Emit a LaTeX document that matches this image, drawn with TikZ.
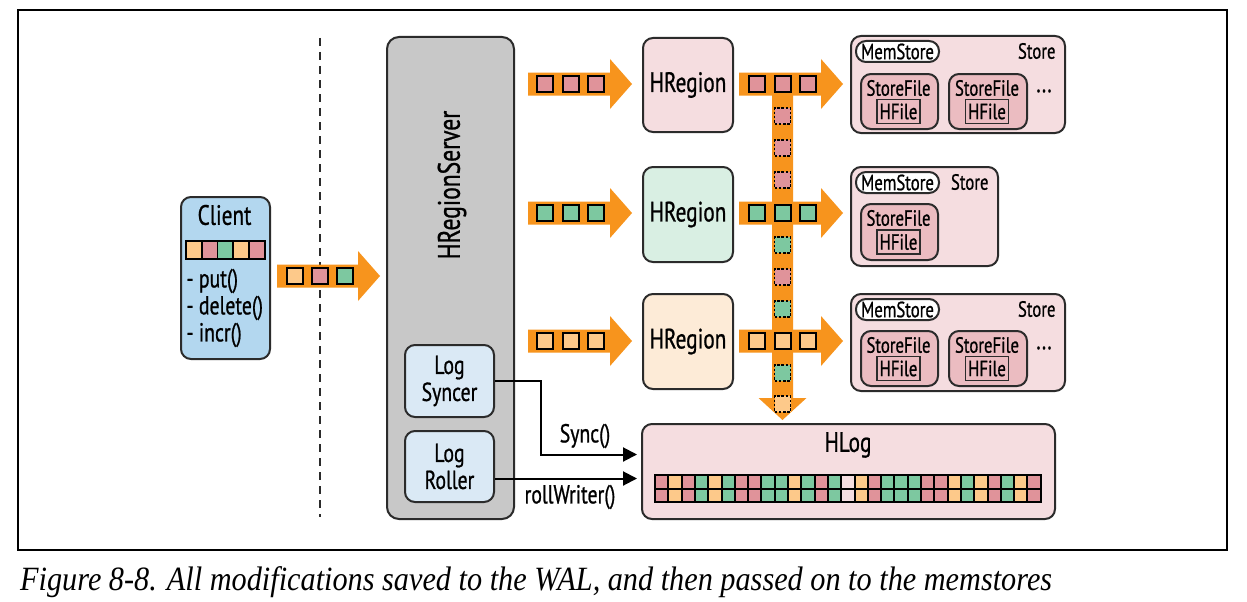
\documentclass[tikz,border=0pt]{standalone}
\usepackage{fontspec}
\setmainfont{PT Sans}[FakeStretch=0.76,FakeBold=0.8]
\newfontfamily\capfont{Liberation Serif}[FakeStretch=0.89]
\usetikzlibrary{arrows.meta,calc}

\definecolor{arroworange}{HTML}{F7941D}
\definecolor{cellP}{HTML}{E0939A}
\definecolor{cellG}{HTML}{7DC8A0}
\definecolor{cellO}{HTML}{FDC98A}
\definecolor{clientblue}{HTML}{B3D7EF}
\definecolor{logblue}{HTML}{DAE9F5}
\definecolor{servergray}{HTML}{C8C8C8}
\definecolor{regionpink}{HTML}{F5DDE0}
\definecolor{regiongreen}{HTML}{D9EFE3}
\definecolor{regionpeach}{HTML}{FDEBD7}
\definecolor{filepink}{HTML}{EBBCC1}
\definecolor{edgegray}{HTML}{2B2B2B}
\colorlet{cellX}{regionpink}

\tikzset{
  rbox/.style={draw=edgegray, line width=2pt, rounded corners=10pt, inner sep=0pt, anchor=north west},
  big/.style={font=\fontsize{28}{30}\selectfont},
  mid/.style={font=\fontsize{26}{29}\selectfont},
  small/.style={font=\fontsize{22}{24}\selectfont},
  sqr/.style={draw=black, line width=2pt, minimum size=16pt, inner sep=0pt},
  dsqr/.style={draw=black, line width=1.4pt, dash pattern=on 2.5pt off 1.8pt, minimum size=16pt, inner sep=0pt},
  hfilebox/.style={draw=edgegray, line width=1.8pt, minimum width=43pt, minimum height=24pt, inner sep=0pt, small},
  conn/.style={draw=black, line width=2pt, -{Triangle[length=14pt,width=14pt]}},
}

% rounded box from its corner (x1,y1) to (x2,y2)
\newcommand\boxfrom[7]{%
  \node[rbox,#6,minimum width={#4-#2},minimum height={#5-#3}] (#1) at (#2,#3) {#7};}

% fat orange arrow from x1 to the tip at x2, along y
\newcommand\fatarrow[3]{%
  \fill[arroworange] (#1,#3-11.5) -- (#2-22,#3-11.5) -- (#2-22,#3-25) -- (#2,#3)
    -- (#2-22,#3+25) -- (#2-22,#3+11.5) -- (#1,#3+11.5) -- cycle;}

\begin{document}
\begin{tikzpicture}[x=1pt,y=-1pt]
\useasboundingbox (0,0) rectangle (1247,602);
\fill[white] (0,0) rectangle (1247,602);

% frame
\draw[line width=1.5pt] (18,10) rectangle (1227,550);

% dashed separator between client and server
\draw[edgegray, line width=2.6pt, dash pattern=on 8pt off 6pt] (320,38) -- (320,517);

% ---------- client ----------
\boxfrom{client}{180}{196}{269}{358}{fill=clientblue}{}
\node[big] (clienttitle) at (224.5,215) {Client};
\foreach \c [count=\i from 0] in {O,P,G,O,P}
  \node[draw=black, line width=1.8pt, fill=cell\c, minimum width=15.8pt, minimum height=18pt, inner sep=0pt, anchor=north west]
    (cc\i) at (185+\i*15.8,240) {};
\node[mid, anchor=west] (cput) at (183,281) {- put()};
\node[mid, anchor=west] (cdel) at (183,308) {- delete()};
\node[mid, anchor=west] (cincr) at (183,335) {- incr()};

% ---------- region server ----------
\boxfrom{server}{386}{36}{513}{518}{fill=servergray, rounded corners=12pt}{}
\node[rotate=90, font=\fontsize{31}{33}\selectfont] (servername) at (452,185) {HRegionServer};
\boxfrom{syncer}{404}{344}{493}{416}{fill=logblue, align=center, mid}{Log\\[-2pt]Syncer}
\boxfrom{roller}{404}{430}{493}{501}{fill=logblue, align=center, mid}{Log\\[-2pt]Roller}

% ---------- regions ----------
\boxfrom{regA}{642}{37}{732}{131}{fill=regionpink, big}{HRegion}
\boxfrom{regB}{642}{166}{732}{261}{fill=regiongreen, big}{HRegion}
\boxfrom{regC}{642}{293}{732}{388}{fill=regionpeach, big}{HRegion}

% ---------- log ----------
\boxfrom{hlog}{641}{423}{1054}{518}{fill=regionpink}{}
\node[big] (hlogname) at (848,445) {HLog};
\foreach \c [count=\i from 0] in {P,O,P,G,O,G,P,P,G,G,O,G,P,G,X,O,P,G,G,G,P,P,O,G,O,P,G,O,P} {
  \ifx\c X
    \draw[fill=cellX, line width=1.4pt, dash pattern=on 2.5pt off 2pt] (655+\i*13.3,475) rectangle ++(13.3,13.5);
    \draw[fill=cellX, line width=1.4pt, dash pattern=on 2.5pt off 2pt] (655+\i*13.3,488.5) rectangle ++(13.3,13.5);
  \else
    \draw[fill=cell\c, line width=2pt] (655+\i*13.3,475) rectangle ++(13.3,13.5);
    \draw[fill=cell\c, line width=2pt] (655+\i*13.3,488.5) rectangle ++(13.3,13.5);
  \fi
}

% ---------- stores ----------
% store of the first region
\boxfrom{storeA}{850}{35}{1064}{132}{fill=regionpink}{}
\boxfrom{memA}{855}{40}{938}{61}{fill=white, small}{MemStore}
\node[small, anchor=east] (storeAlbl) at (1059,51) {Store};
\boxfrom{sfA1}{860}{73}{937}{128}{fill=filepink}{}
\node[small] (sfA1t) at (898.5,88) {StoreFile};
\node[hfilebox] (hfA1) at (898.5,111.5) {HFile};
\boxfrom{sfA2}{948}{73}{1026}{128}{fill=filepink}{}
\node[small] (sfA2t) at (987,88) {StoreFile};
\node[hfilebox] (hfA2) at (987,111.5) {HFile};
\node[mid] (dotsA) at (1044,91) {...};

% store of the second region
\boxfrom{storeB}{850}{166}{997}{265}{fill=regionpink}{}
\boxfrom{memB}{855}{171}{938}{192}{fill=white, small}{MemStore}
\node[small, anchor=east] (storeBlbl) at (992,182) {Store};
\boxfrom{sfB1}{860}{203}{937}{259}{fill=filepink}{}
\node[small] (sfB1t) at (898.5,218) {StoreFile};
\node[hfilebox] (hfB1) at (898.5,242) {HFile};

% store of the third region
\boxfrom{storeC}{850}{293}{1064}{390}{fill=regionpink}{}
\boxfrom{memC}{855}{298}{938}{319}{fill=white, small}{MemStore}
\node[small, anchor=east] (storeClbl) at (1059,309) {Store};
\boxfrom{sfC1}{860}{330}{937}{385}{fill=filepink}{}
\node[small] (sfC1t) at (898.5,345) {StoreFile};
\node[hfilebox] (hfC1) at (898.5,368.5) {HFile};
\boxfrom{sfC2}{948}{330}{1026}{385}{fill=filepink}{}
\node[small] (sfC2t) at (987,345) {StoreFile};
\node[hfilebox] (hfC2) at (987,368.5) {HFile};
\node[mid] (dotsC) at (1044,348) {...};

% ---------- orange data flow ----------
% trunk down to the log
\fill[arroworange] (772,84) -- (793,84) -- (793,398) -- (806.5,398) -- (782.5,420)
  -- (758.5,398) -- (772,398) -- cycle;
\fatarrow{277}{380}{276}
\fatarrow{528}{632}{84}
\fatarrow{528}{632}{213}
\fatarrow{528}{632}{341}
\fatarrow{739}{843}{84}
\fatarrow{739}{843}{213}
\fatarrow{739}{843}{341}

% edits carried by the arrows
\foreach \c [count=\i from 0] in {O,P,G}
  \node[sqr, fill=cell\c] (ka\i) at (295+\i*25,276) {};
\foreach \c [count=\i from 0] in {P,P,P}
  {\node[sqr, fill=cell\c] (ra\i) at (545+\i*25.5,84) {};
   \node[sqr, fill=cell\c] (sa\i) at (757+\i*25.5,84) {};}
\foreach \c [count=\i from 0] in {G,G,G}
  {\node[sqr, fill=cell\c] (rb\i) at (545+\i*25.5,213) {};
   \node[sqr, fill=cell\c] (sb\i) at (757+\i*25.5,213) {};}
\foreach \c [count=\i from 0] in {O,O,O}
  {\node[sqr, fill=cell\c] (rc\i) at (545+\i*25.5,341) {};
   \node[sqr, fill=cell\c] (sc\i) at (757+\i*25.5,341) {};}
\foreach \c/\y [count=\i from 0] in {P/116,P/148,P/180,G/245,P/277,G/309,G/373,O/404}
  \node[dsqr, fill=cell\c] (wa\i) at (782.5,\y) {};

% ---------- log calls ----------
\draw[conn, shorten >=4pt] (syncer.east) -- ++(46,0) |- ($(hlog.west)+(0,-17)$);
\draw[conn, shorten >=4pt] ($(roller.east)+(0,12)$) -- ($(hlog.west)+(0,7)$);
\node[mid] (synclbl) at (585,436) {Sync()};
\node[mid] (rolllbl) at (570,497) {rollWriter()};

% ---------- caption ----------
\node[anchor=west, inner sep=0pt, font=\capfont\itshape\fontsize{34}{36}\selectfont] (caption) at (20,582)
  {Figure 8-8. All modifications saved to the WAL, and then passed on to the memstores};
\end{tikzpicture}
\end{document}
